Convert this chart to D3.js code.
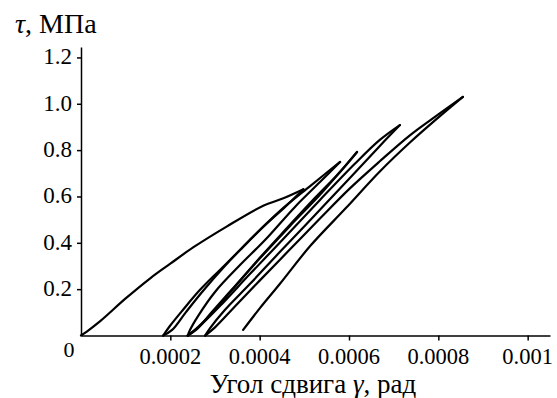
<!DOCTYPE html>
<html>
<head>
<meta charset="utf-8">
<script src="https://cdn.jsdelivr.net/npm/d3@7/dist/d3.min.js"></script>
</head>
<body style="margin:0">
<svg width="557" height="398" id="chart"></svg>
<script>
// loading history, each branch as [gamma (rad), tau (MPa)]
var load1 = [[0, 0], [0.000013, 0.017], [0.000043, 0.062], [0.0001, 0.16], [0.000155, 0.247],
  [0.0002, 0.31], [0.000251, 0.38], [0.000326, 0.47], [0.000408, 0.56], [0.000453, 0.592], [0.000498, 0.631]];
var unload1 = [[0.000498, 0.631], [0.000457, 0.555], [0.000405, 0.464], [0.000356, 0.369],
  [0.000311, 0.283], [0.000266, 0.196], [0.000228, 0.11], [0.000199, 0.041], [0.000184, 0]];
var reload2 = [[0.000184, 0], [0.000204, 0.024], [0.000235, 0.101], [0.000273, 0.192], [0.000322, 0.3],
  [0.000378, 0.412], [0.000445, 0.537], [0.000513, 0.645], [0.00058, 0.749]];
var unload2 = [[0.00058, 0.749], [0.000535, 0.662], [0.000479, 0.555], [0.000412, 0.412], [0.000356, 0.304],
  [0.0003, 0.188], [0.000262, 0.084], [0.000244, 0.024], [0.000239, 0]];
var reload3 = [[0.000239, 0], [0.000262, 0.032], [0.000293, 0.101], [0.000345, 0.214], [0.000401, 0.334],
  [0.000468, 0.473], [0.000535, 0.607], [0.000591, 0.731], [0.000618, 0.792]];
var unload3 = [[0.000618, 0.792], [0.00058, 0.706], [0.000524, 0.594], [0.000457, 0.455], [0.000396, 0.326],
  [0.000338, 0.196], [0.000289, 0.088], [0.000255, 0.024], [0.000239, 0]];
var reload4 = [[0.000239, 0], [0.000266, 0.041], [0.000311, 0.127], [0.000378, 0.265], [0.000457, 0.425],
  [0.000535, 0.585], [0.000613, 0.741], [0.000669, 0.844], [0.000714, 0.908]];
var unload4 = [[0.000714, 0.908], [0.000669, 0.818], [0.000602, 0.68], [0.000524, 0.52], [0.000445, 0.36],
  [0.000378, 0.222], [0.000322, 0.11], [0.000289, 0.032], [0.000278, 0]];
var reload5 = [[0.000278, 0], [0.0003, 0.035], [0.000345, 0.126], [0.000401, 0.239], [0.000468, 0.372],
  [0.000535, 0.505], [0.000602, 0.635], [0.000669, 0.752], [0.000737, 0.865], [0.000797, 0.95], [0.000855, 1.03]];
var unload5 = [[0.000855, 1.03], [0.000797, 0.936], [0.000737, 0.834], [0.000669, 0.708], [0.000593, 0.55],
  [0.000513, 0.386], [0.000445, 0.222], [0.000401, 0.119], [0.000363, 0.024]];

var branches = [load1, unload1, reload2, unload2, reload3, unload3, reload4, unload4, reload5, unload5];

var xTicks = [0.0002, 0.0004, 0.0006, 0.0008, 0.001];
var xTickLabels = ["0.0002", "0.0004", "0.0006", "0.0008", "0.001"];
var yTicks = [0.2, 0.4, 0.6, 0.8, 1.0, 1.2];
var yTickLabels = ["0.2", "0.4", "0.6", "0.8", "1.0", "1.2"];

var svg = d3.select("#chart");

var x = d3.scaleLinear().domain([0, 0.00105]).range([81, 550]);
var y = d3.scaleLinear().domain([0, 1.245]).range([335.5, 47]);

// curves
var line = d3.line()
  .x(d => x(d[0]))
  .y(d => y(d[1]))
  .curve(d3.curveCatmullRom);

svg.append("g")
  .selectAll("path")
  .data(branches)
  .enter().append("path")
  .attr("d", line)
  .attr("fill", "none")
  .attr("stroke", "#000")
  .attr("stroke-width", 2.2)
  .attr("stroke-linejoin", "round")
  .attr("stroke-linecap", "round");

// axes, tick labels drawn by hand so the font is ours
svg.append("g")
  .attr("transform", "translate(0," + y(0) + ")")
  .call(d3.axisBottom(x).tickValues(xTicks).tickSize(5).tickSizeOuter(0).tickFormat(""));

svg.append("g")
  .attr("transform", "translate(" + x(0) + ",0)")
  .call(d3.axisLeft(y).tickValues(yTicks).tickSize(4).tickSizeOuter(0).tickFormat(""));

svg.selectAll(".domain, .tick line")
  .attr("stroke", "#000")
  .attr("stroke-width", 1.5);

xTicks.forEach(function(v, i) {
  svg.append("text")
    .attr("x", x(v))
    .attr("y", 364)
    .attr("text-anchor", "middle")
    .style("font-family", "'Liberation Serif'")
    .style("font-size", "22.5px")
    .text(xTickLabels[i]);
});

yTicks.forEach(function(v, i) {
  svg.append("text")
    .attr("x", 72)
    .attr("y", y(v) + 7)
    .attr("text-anchor", "end")
    .style("font-family", "'Liberation Serif'")
    .style("font-size", "23px")
    .text(yTickLabels[i]);
});

// origin label
svg.append("text")
  .attr("x", 69)
  .attr("y", 357)
  .attr("text-anchor", "middle")
  .style("font-family", "'Liberation Serif'")
  .style("font-size", "22px")
  .text("0");

// axis titles
var yTitle = svg.append("text")
  .attr("x", 15)
  .attr("y", 33)
  .style("font-family", "'Liberation Serif'")
  .style("font-size", "28px");
yTitle.append("tspan").style("font-style", "italic").text("τ");
yTitle.append("tspan").text(", МПа");

var xTitle = svg.append("text")
  .attr("x", 313)
  .attr("y", 393)
  .attr("text-anchor", "middle")
  .style("font-family", "'Liberation Serif'")
  .style("font-size", "27px");
xTitle.append("tspan").text("Угол сдвига ");
xTitle.append("tspan").style("font-style", "italic").text("γ");
xTitle.append("tspan").text(", рад");
</script>
</body>
</html>
